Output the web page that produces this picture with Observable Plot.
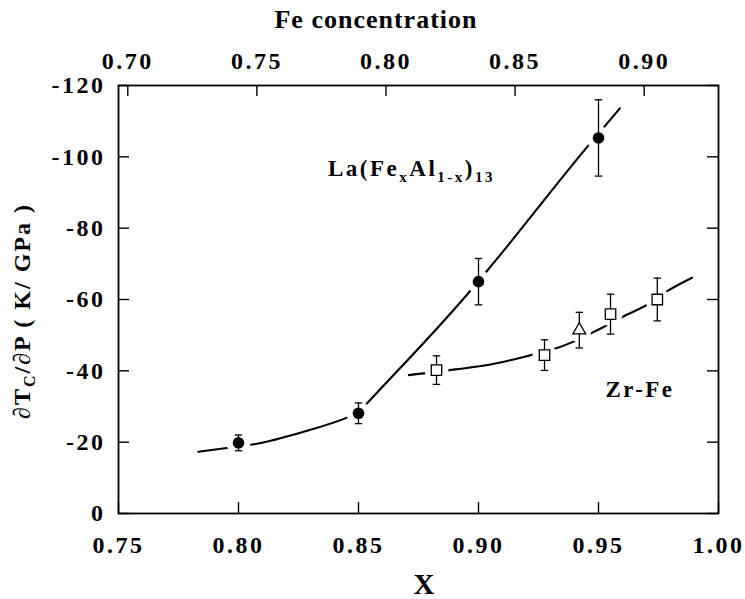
<!DOCTYPE html>
<html><head><meta charset="utf-8">
<script src="https://cdn.jsdelivr.net/npm/d3@7"></script>
<script src="https://cdn.jsdelivr.net/npm/@observablehq/plot@0.6"></script>
<style>
body{margin:0;background:#fff;}
#chart svg text{letter-spacing:2.5px;font-family:"Liberation Serif","Times New Roman",serif !important;font-weight:bold !important;}
</style></head><body><div id="chart"></div>
<script>
// ---- scales / ticks ----
const xDomain = [0.75, 1.00];
const yDomain = [0, -120];
const xTicks = [0.75, 0.80, 0.85, 0.90, 0.95, 1.00];
const yTicks = [0, -20, -40, -60, -80, -100, -120];
const feDomain = [0.6964, 0.9288];          // top axis range matching the bottom range
const feTicks = [0.70, 0.75, 0.80, 0.85, 0.90];

// ---- La(FexAl1-x)13 : filled circles ----
const laX   = [0.80, 0.85, 0.90, 0.95];
const laY   = [-19.8, -28.1, -65.0, -105.3];
const laErr = [2.2, 2.9, 6.5, 10.7];

// ---- Zr-Fe : open squares ----
const zrX   = [0.8825, 0.9275, 0.955, 0.9745];
const zrY   = [-40.2, -44.4, -55.9, -60.0];
const zrErr = [4.0, 4.3, 5.6, 6.0];

// ---- Zr-Fe : open triangle ----
const triX   = [0.942];
const triY   = [-51.4];
const triErr = [5.0];

// ---- guide curves (La curve has two branches joined at x = 0.85) ----
const laCurveX   = [0.7833, 0.7967, 0.8071, 0.8265, 0.846, 0.85,   0.85,  0.8568, 0.895, 0.905, 0.9453, 0.9589];
const laCurveY   = [-17.3, -18.5, -19.5, -22.8, -27.1, -28.3,  -28.3, -33.2, -61.2, -69.2, -102.8, -113.6];
const laCurveSeg = [0, 0, 0, 0, 0, 0, 1, 1, 1, 1, 1, 1];
const zrCurveX = [0.871, 0.8904, 0.906, 0.9217, 0.9324, 0.9386, 0.9474, 0.9521, 0.9599, 0.9713, 0.9788, 0.989];
const zrCurveY = [-38.8, -40.4, -41.9, -44.4, -46.3, -47.9, -50.7, -52.3, -55.1, -58.9, -62.4, -66.1];

// ---- labels ----
const zrLabel = [{x: 0.9529, y: -32.6, text: "Zr-Fe"}];
const laLabelPos = {x: 0.8375, y: -94.6};

const toX = d3.scaleLinear(feDomain, xDomain);
const rows = (xs, ys, es) => xs.map((x, i) => ({x, y: ys[i], e: es ? es[i] : 0}));
const la = rows(laX, laY, laErr);
const zr = rows(zrX, zrY, zrErr);
const tri = rows(triX, triY, triErr);
const allPts = [...la, ...zr, ...tri];
const laCurve = laCurveX.map((x, i) => ({x, y: laCurveY[i], s: laCurveSeg[i]}));
const zrCurve = rows(zrCurveX, zrCurveY);

const capSymbol = {draw(ctx, size) { const r = Math.sqrt(size / Math.PI); ctx.moveTo(-r, 0); ctx.lineTo(r, 0); }};

const W = 745, H = 599, mL = 118, mR = 27, mT = 85, mB = 86;
const innerW = W - mL - mR, innerH = H - mT - mB, tickLen = 11;
const font = '"Liberation Serif", "Times New Roman", serif';

const plot = Plot.plot({
  width: W, height: H,
  marginLeft: mL, marginRight: mR, marginTop: mT, marginBottom: mB,
  x: {domain: xDomain},
  y: {domain: yDomain},
  style: {fontFamily: font, background: "white", color: "black", overflow: "visible"},
  marks: [
    Plot.line(laCurve, {x: "x", y: "y", z: "s", curve: "monotone-x", strokeWidth: 2.1, stroke: "black"}),
    Plot.line(zrCurve, {x: "x", y: "y", curve: "monotone-x", strokeWidth: 2.1, stroke: "black"}),
    Plot.dot(allPts, {x: "x", y: "y", r: 12, fill: "white", stroke: null}),
    Plot.ruleX(allPts, {x: "x", y1: d => d.y - d.e, y2: d => d.y + d.e, strokeWidth: 1.3}),
    Plot.dot(allPts, {x: "x", y: d => d.y - d.e, symbol: capSymbol, r: 3.7, fill: "none", stroke: "black", strokeWidth: 1.3}),
    Plot.dot(allPts, {x: "x", y: d => d.y + d.e, symbol: capSymbol, r: 3.7, fill: "none", stroke: "black", strokeWidth: 1.3}),
    Plot.dot(la, {x: "x", y: "y", r: 5.8, fill: "black", stroke: null}),
    Plot.dot(zr, {x: "x", y: "y", symbol: "square", r: 5.9, fill: "white", stroke: "black", strokeWidth: 1.3}),
    Plot.dot(tri, {x: "x", y: "y", symbol: "triangle", r: 4.8, fill: "white", stroke: "black", strokeWidth: 1.3}),
    // inward ticks
    Plot.tickX(xTicks, {x: d => d, insetTop: innerH - tickLen, strokeWidth: 1.4}),
    Plot.tickX(feTicks, {x: d => toX(d), insetBottom: innerH - tickLen, strokeWidth: 1.4}),
    Plot.tickY(yTicks, {y: d => d, insetRight: innerW - tickLen, strokeWidth: 1.4}),
    Plot.tickY(yTicks, {y: d => d, insetLeft: innerW - tickLen, strokeWidth: 1.4}),
    Plot.frame({strokeWidth: 1.8}),
    // axes (labels only)
    Plot.axisX(xTicks, {anchor: "bottom", tickSize: 0, tickPadding: 22, tickFormat: d3.format(".2f"), label: null, fontSize: 24}),
    Plot.axisX(feTicks.map(toX), {anchor: "top", tickSize: 0, tickPadding: 17, tickFormat: d => d3.format(".2f")(toX.invert(d)), label: null, fontSize: 24}),
    Plot.axisY(yTicks, {anchor: "left", tickSize: 0, tickPadding: 13, tickFormat: d => String(d), label: null, fontSize: 24}),
    Plot.text(zrLabel, {x: "x", y: "y", text: "text", textAnchor: "start", lineAnchor: "bottom", fontSize: 23})
  ]
});

const svg = d3.select(plot);
const px = d3.scaleLinear(xDomain, [mL, W - mR]);
const py = d3.scaleLinear(yDomain, [H - mB, mT]);

// La(FexAl1-x)13 label with subscripts
const laT = svg.append("text")
  .attr("x", px(laLabelPos.x)).attr("y", py(laLabelPos.y))
  .attr("text-anchor", "start")
  .attr("font-size", 23);
const parts = [["La(Fe", 0], ["x", 1], ["Al", 0], ["1-x", 1], [")", 0], ["13", 1]];
let prevSub = 0;
for (const [t, sub] of parts) {
  const ts = laT.append("tspan").text(t);
  if (sub) ts.attr("font-size", 15);
  const shift = (sub ? 6 : 0) - prevSub;
  if (shift) ts.attr("dy", shift);
  prevSub = sub ? 6 : 0;
}

// top title
svg.append("text").attr("x", 376).attr("y", 28).attr("text-anchor", "middle")
  .attr("font-size", 26).style("letter-spacing", "1px").text("Fe concentration");
// bottom title
svg.append("text").attr("x", 424).attr("y", 594).attr("text-anchor", "middle")
  .attr("font-size", 29).style("letter-spacing", "0px").text("X");
// y title with subscript
const yt = svg.append("text").attr("transform", "translate(30,311) rotate(-90)").attr("text-anchor", "middle")
  .attr("font-size", 24).style("letter-spacing", "2px");
yt.append("tspan").text("\u2202T");
yt.append("tspan").text("C").attr("font-size", 16).attr("dy", 5);
yt.append("tspan").text("/\u2202P ( K/ GPa )").attr("dy", -5);

document.getElementById("chart").appendChild(plot);
</script></body></html>
